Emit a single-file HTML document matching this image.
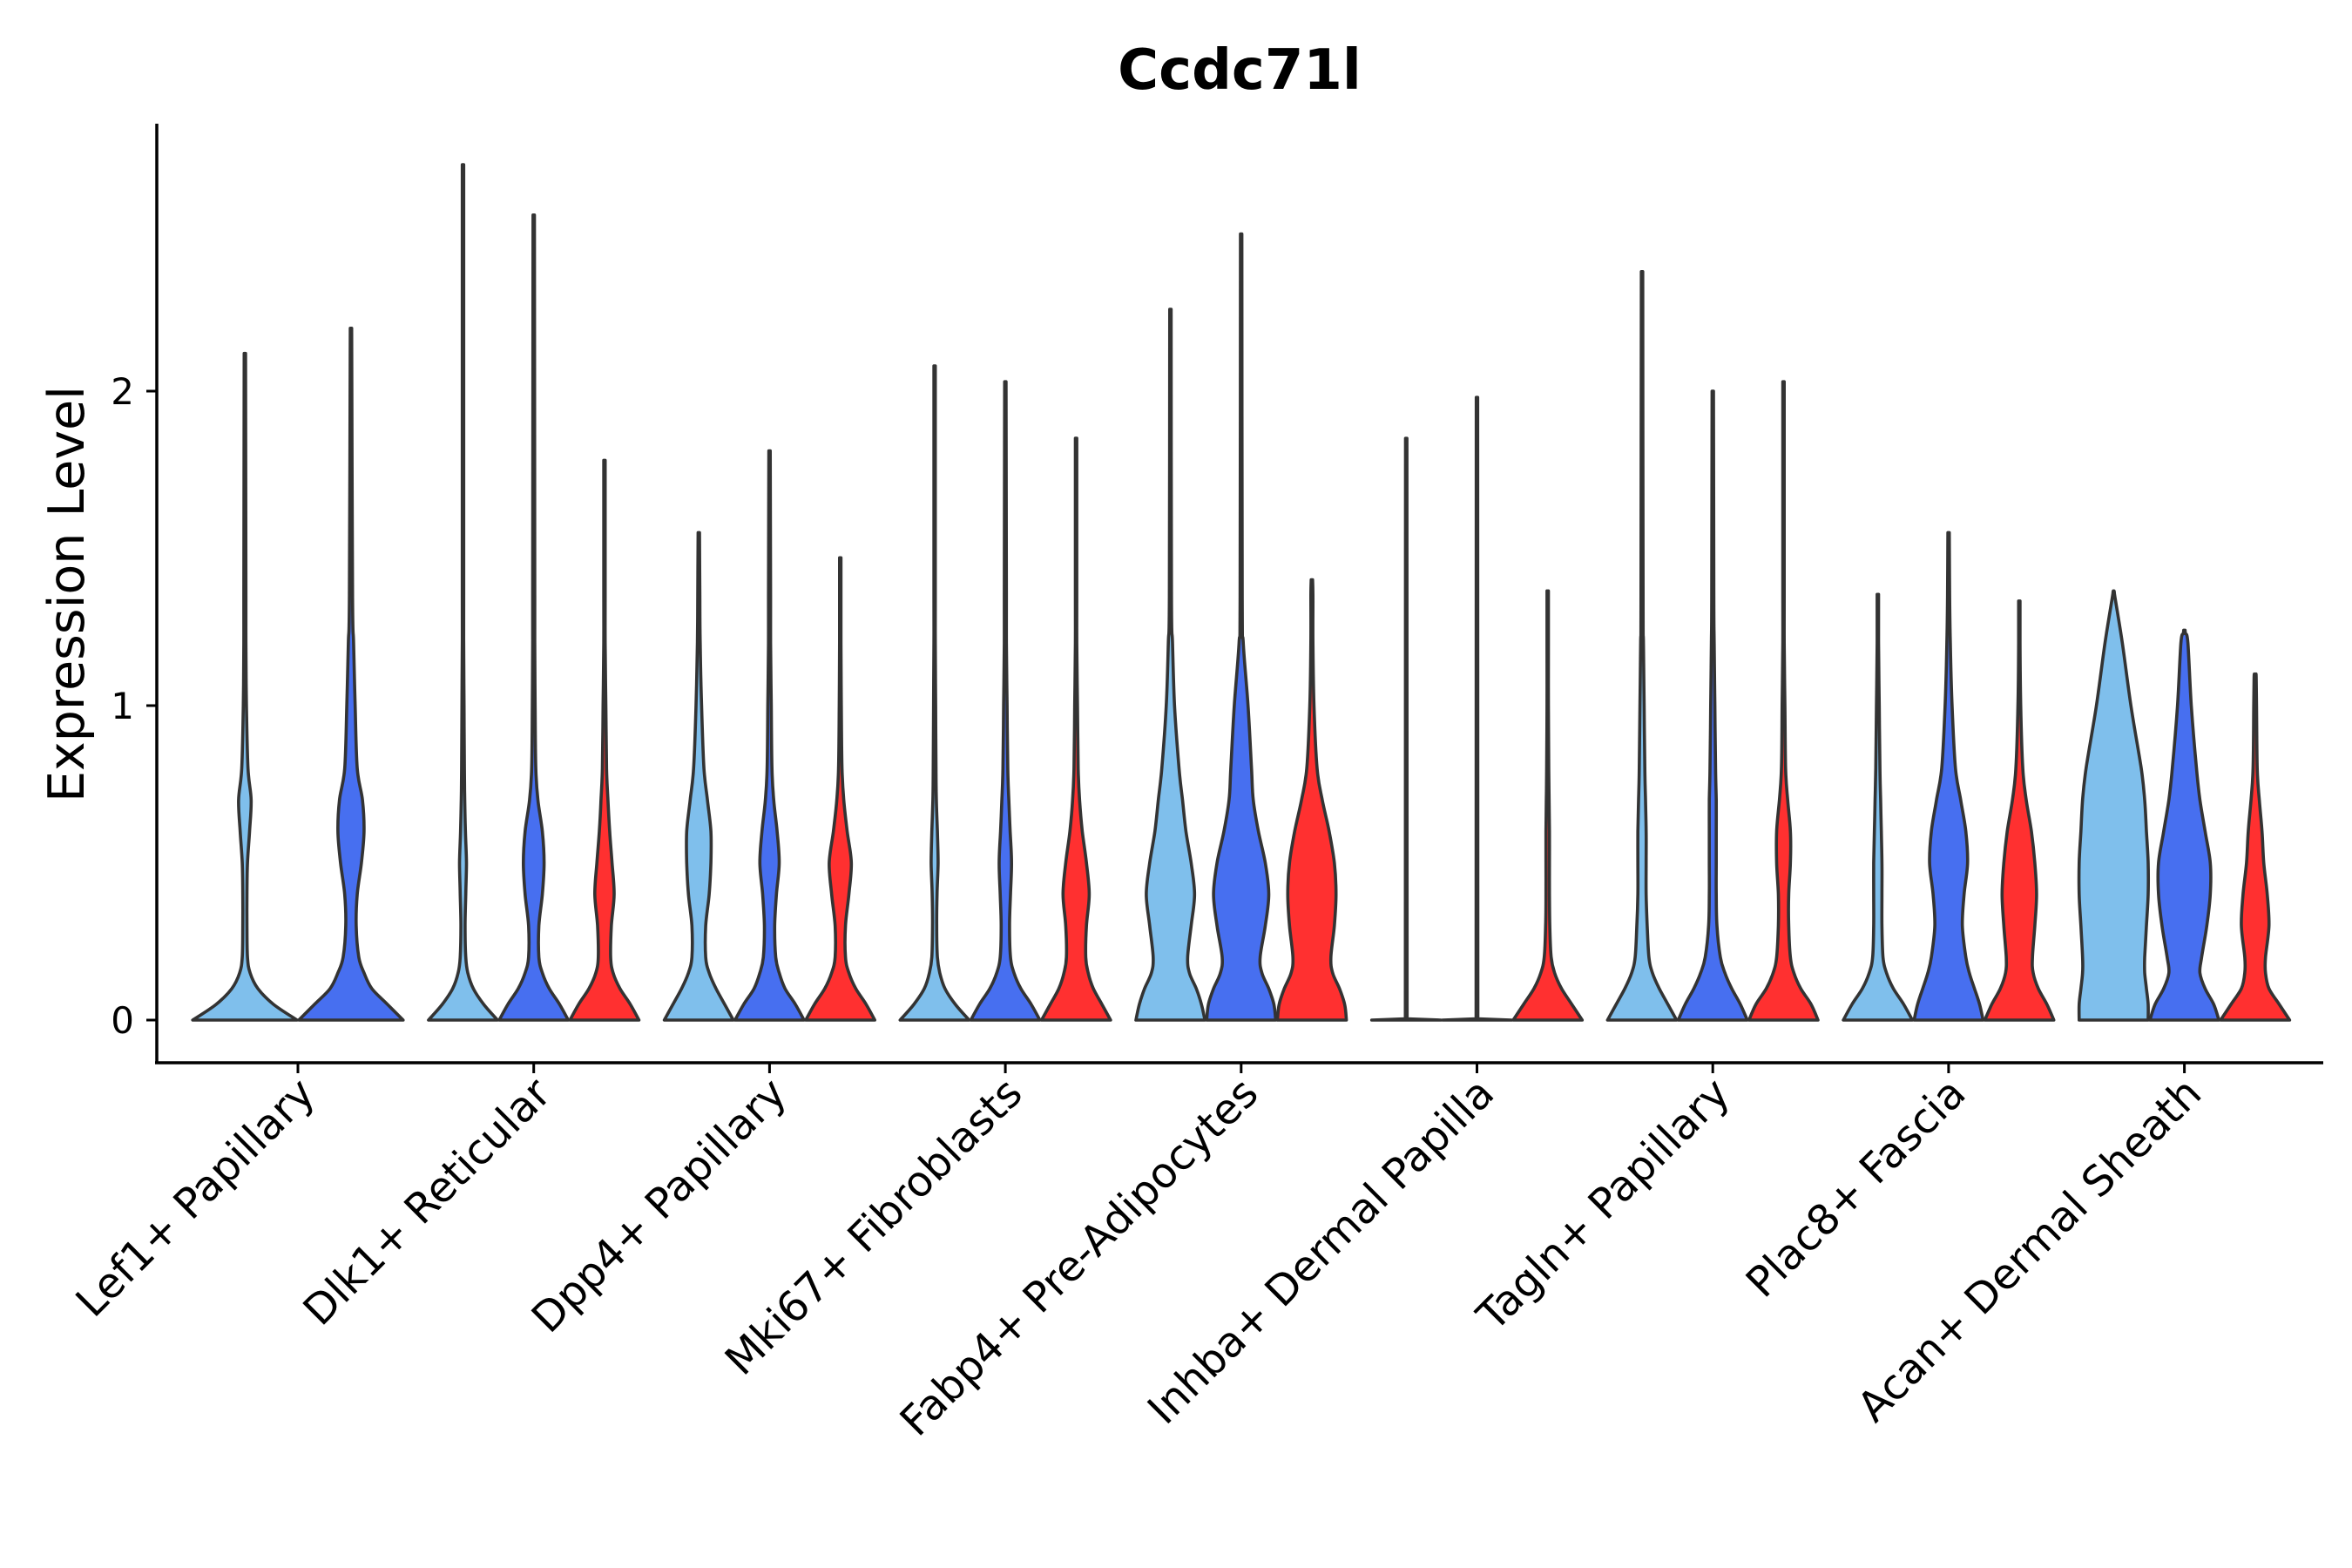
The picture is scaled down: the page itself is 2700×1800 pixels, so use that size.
<!DOCTYPE html>
<html><head><meta charset="utf-8"><style>
html,body{margin:0;padding:0;background:#fff}
svg{display:block}
text{font-family:"DejaVu Sans","Liberation Sans",sans-serif;fill:#000}
</style></head><body>
<svg id="chart" width="2700" height="1800" viewBox="0 0 2700 1800" xmlns="http://www.w3.org/2000/svg">
<text x="1423" y="102" text-anchor="middle" font-size="64" font-weight="bold">Ccdc71l</text>
<text transform="translate(96,682) rotate(-90)" text-anchor="middle" font-size="57">Expression Level</text>
<g id="plot"></g>
</svg>
<script>
const categories = ["Lef1+ Papillary","Dlk1+ Reticular","Dpp4+ Papillary","Mki67+ Fibroblasts","Fabp4+ Pre-Adipocytes","Inhba+ Dermal Papilla","Tagln+ Papillary","Plac8+ Fascia","Acan+ Dermal Sheath"];
const seriesNames = ["light","blue","red"];
const seriesColors = ["#7fbfec","#476ff0","#ff3030"];
const yTicks = [0,1,2];
const densityLevels = [0,0.05,0.1,0.15,0.2,0.3,0.4,0.5,0.6,0.7,0.8,1.0,1.2];
const maxLight = [2.12,2.72,1.55,2.08,2.26,1.85,2.38,1.35,1.36];
const maxBlue  = [2.20,2.56,1.81,2.03,2.50,1.98,2.00,1.55,1.24];
const maxRed   = [null,1.78,1.47,1.85,1.40,1.36,2.03,1.33,1.10];
const zero = [0,0,0,0,0,0,0,0,0,0,0,0,0];
const densLight = [
 [1,0.55,0.25,0.1,0.05,0.04,0.04,0.05,0.09,0.12,0.06,0.03,0.02],
 [1,0.6,0.3,0.14,0.08,0.06,0.08,0.1,0.07,0.05,0.04,0.03,0.02],
 [1,0.75,0.5,0.3,0.2,0.2,0.3,0.35,0.35,0.25,0.15,0.08,0.04],
 [1,0.6,0.3,0.15,0.08,0.06,0.07,0.1,0.08,0.05,0.04,0.03,0.02],
 [1,0.9,0.75,0.55,0.5,0.6,0.7,0.6,0.45,0.35,0.25,0.12,0.06],
 zero,
 [1,0.75,0.5,0.3,0.2,0.15,0.12,0.12,0.12,0.1,0.08,0.06,0.04],
 [1,0.75,0.45,0.25,0.15,0.12,0.12,0.12,0.1,0.08,0.06,0.04,0.02],
 [1,1,0.95,0.9,0.9,0.95,1,1,0.95,0.9,0.8,0.5,0.25]
];
const densBlue = [
 [1,0.7,0.4,0.25,0.15,0.1,0.12,0.2,0.25,0.22,0.12,0.08,0.05],
 [1,0.75,0.45,0.25,0.15,0.15,0.25,0.3,0.25,0.12,0.06,0.04,0.03],
 [1,0.75,0.45,0.28,0.18,0.15,0.2,0.28,0.22,0.12,0.07,0.05,0.03],
 [1,0.75,0.45,0.25,0.15,0.12,0.15,0.18,0.14,0.1,0.07,0.05,0.03],
 [1,0.95,0.8,0.6,0.55,0.7,0.8,0.7,0.5,0.35,0.3,0.2,0.06],
 zero,
 [1,0.8,0.55,0.35,0.22,0.12,0.1,0.1,0.1,0.1,0.08,0.06,0.04],
 [1,0.9,0.75,0.6,0.5,0.4,0.45,0.55,0.5,0.35,0.2,0.1,0.05],
 [1,0.85,0.6,0.45,0.5,0.65,0.75,0.75,0.6,0.45,0.35,0.2,0.1]
];
const densRed = [
 null,
 [1,0.75,0.45,0.25,0.18,0.2,0.28,0.22,0.15,0.1,0.06,0.04,0.02],
 [1,0.75,0.45,0.25,0.15,0.15,0.25,0.32,0.2,0.1,0.05,0.03,0.02],
 [1,0.75,0.5,0.35,0.28,0.3,0.38,0.3,0.18,0.1,0.06,0.04,0.02],
 [1,0.95,0.8,0.6,0.55,0.65,0.7,0.65,0.5,0.3,0.15,0.06,0.03],
 [1,0.7,0.4,0.2,0.1,0.06,0.05,0.05,0.05,0.04,0.03,0.02,0.02],
 [1,0.8,0.5,0.3,0.2,0.15,0.15,0.2,0.2,0.12,0.06,0.04,0.02],
 [1,0.8,0.55,0.4,0.38,0.45,0.5,0.45,0.35,0.2,0.1,0.04,0.02],
 [1,0.7,0.4,0.3,0.3,0.4,0.35,0.25,0.2,0.12,0.06,0.04,0.02]
];
const maxes = [maxLight,maxBlue,maxRed];
const dens = [densLight,densBlue,densRed];

const NS="http://www.w3.org/2000/svg";
const plot=document.getElementById('plot');
const X0=180, XR=2667, YB=1220, YT=142;
const slot=270.7, firstC=342;
function yScale(v){return 1171 - v*361;}
function xCenter(i){return firstC + i*slot;}
function mk(tag,attrs){const e=document.createElementNS(NS,tag);for(const k in attrs)e.setAttribute(k,attrs[k]);return e;}

const ya=mk('line',{x1:X0,y1:YT,x2:X0,y2:YB,stroke:'#000','stroke-width':3.5});


plot.appendChild(ya);
const xa=mk('line',{x1:X0-2,y1:YB,x2:XR,y2:YB,stroke:'#000','stroke-width':3.5});


plot.appendChild(xa);
yTicks.forEach(t=>{
  const y=yScale(t);
  const l=mk('line',{x1:X0-12,y1:y,x2:X0,y2:y,stroke:'#000','stroke-width':3});
  
  
  plot.appendChild(l);
  const tx=mk('text',{x:X0-26,y:y+15,'text-anchor':'end','font-size':42});
  tx.textContent=t;
  
  
  plot.appendChild(tx);
});
categories.forEach((c,i)=>{
  const cx=xCenter(i);
  const l=mk('line',{x1:cx,y1:YB,x2:cx,y2:YB+12,stroke:'#000','stroke-width':3});
  
  
  plot.appendChild(l);
  const tx=mk('text',{transform:`translate(${cx+22},${YB+38}) rotate(-45)`,'text-anchor':'end','font-size':48});
  tx.textContent=c;
  
  
  plot.appendChild(tx);
});

function smoothPath(pts){
  let d='M'+pts[0][0].toFixed(1)+','+pts[0][1].toFixed(1);
  for(let i=0;i<pts.length-1;i++){
    const p0=pts[Math.max(0,i-1)],p1=pts[i],p2=pts[i+1],p3=pts[Math.min(pts.length-1,i+2)];
    const c1=[p1[0]+(p2[0]-p0[0])/6,p1[1]+(p2[1]-p0[1])/6];
    const c2=[p2[0]-(p3[0]-p1[0])/6,p2[1]-(p3[1]-p1[1])/6];
    d+=' C'+c1[0].toFixed(1)+','+c1[1].toFixed(1)+' '+c2[0].toFixed(1)+','+c2[1].toFixed(1)+' '+p2[0].toFixed(1)+','+p2[1].toFixed(1);
  }
  return d;
}
function violin(cx,hw,maxV,d,color){
  if(d[0]===0){
    const y0=yScale(0), yt=yScale(maxV);
    const dd=`M${cx-hw},${y0} L${cx-1},${y0-1.5} L${cx-0.8},${yt} L${cx+0.8},${yt} L${cx+1},${y0-1.5} L${cx+hw},${y0} Z`;
    return mk('path',{d:dd,fill:color,stroke:'#333','stroke-width':3.6,'stroke-linejoin':'round'});
  }
  let pts=[];
  densityLevels.forEach((lv,k)=>{ if(lv<maxV) pts.push([lv,d[k]]); });
  const lastW=pts[pts.length-1][1];
  pts.push([Math.min(maxV-0.01, pts[pts.length-1][0]+0.15),Math.min(lastW,0.03)]);
  pts.push([maxV,0.005]);
  const right=pts.map(p=>[cx+Math.max(p[1]*hw,0.8),yScale(p[0])]);
  const left=pts.slice().reverse().map(p=>[cx-Math.max(p[1]*hw,0.8),yScale(p[0])]);
  const dstr=smoothPath(right)+' L'+left[0][0].toFixed(1)+','+left[0][1].toFixed(1)+smoothPath(left).replace(/^M[^ ]+/,'')+' Z';
  return mk('path',{d:dstr,fill:color,stroke:'#333','stroke-width':3.6,'stroke-linejoin':'round'});
}
categories.forEach((c,i)=>{
  const present=[0,1,2].filter(s=>maxes[s][i]!=null);
  const n=present.length;
  const sub=slot*0.9/n;
  present.forEach((s,j)=>{
    const cx=xCenter(i)-slot*0.45+sub*(j+0.5);
    const p=violin(cx,sub/2-1,maxes[s][i],dens[s][i],seriesColors[s]);
    
    
    plot.appendChild(p);
  });
});
</script>
</body></html>
